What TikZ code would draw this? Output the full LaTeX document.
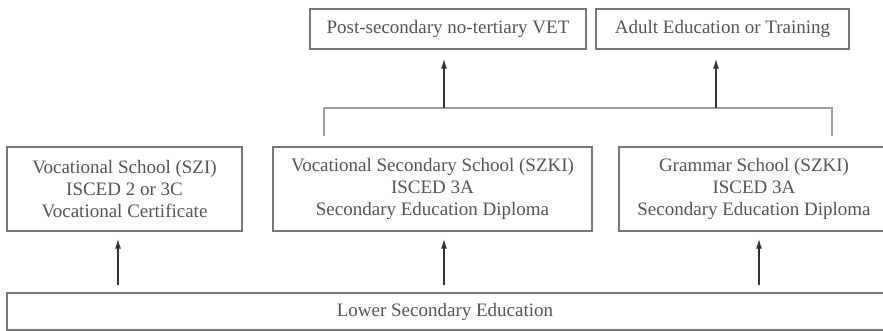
\documentclass[tikz,border=0pt]{standalone}
\usepackage{fontspec}
\setmainfont{Liberation Serif}
\usepackage{tikz}
\usetikzlibrary{arrows.meta}

\definecolor{txtgray}{RGB}{85,85,85}
\definecolor{boxgray}{RGB}{120,120,120}
\definecolor{lightgray}{RGB}{160,160,160}

\tikzset{
  stagebox/.style={draw=boxgray, line width=1.2pt, text=txtgray, align=center,
    inner sep=0pt, font=\fontsize{19}{22}\selectfont},
  uparrow/.style={-{Latex[length=10pt,width=6pt]}, line width=1.5pt, color=black!80},
  joinline/.style={draw=lightgray, line width=1.2pt}
}

\begin{document}
\begin{tikzpicture}[x=1pt,y=-1pt]
\useasboundingbox (0,0) rectangle (883,331);
\clip (0,0) rectangle (883,331);
% top row
\node[stagebox, minimum width=276pt, minimum height=40pt] (post) at (448,29) {Post-secondary no-tertiary VET};
\node[stagebox, minimum width=253pt, minimum height=40pt] (adult) at (722.5,29) {Adult Education or Training};
% middle row
\node[stagebox, minimum width=235pt, minimum height=84pt] (voc) at (124.5,189) {Vocational School (SZI)\\ISCED 2 or 3C\\Vocational Certificate};
\node[stagebox, minimum width=319pt, minimum height=84pt] (vocsec) at (432.5,189) {Vocational Secondary School (SZKI)\\ISCED 3A\\Secondary Education Diploma};
\node[stagebox, minimum width=270pt, minimum height=84pt] (gram) at (754,189) {Grammar School (SZKI)\\ISCED 3A\\Secondary Education Diploma};
% bottom row
\node[stagebox, minimum width=880pt, minimum height=37pt] (lower) at (447,311.5) {\hspace{-4pt}Lower Secondary Education};
% bracket over the two upper secondary schools
\coordinate (bl) at (324,136);
\coordinate (br) at (832,136);
\draw[joinline] (bl) -- ++(0,-28) -| (br);
\coordinate (ja) at (444,108);
\coordinate (jb) at (716,108);
\draw[uparrow, shorten >=9pt] (ja) -- (ja |- post.south);
\draw[uparrow, shorten >=9pt] (jb) -- (jb |- adult.south);
% arrows from lower secondary
\foreach \nd/\dx in {voc/-6.5, vocsec/11.5, gram/5}
  \draw[uparrow, shorten <=7pt, shorten >=7pt] ([xshift=\dx pt]lower.north -| \nd.south) -- ([xshift=\dx pt]\nd.south);
\end{tikzpicture}
\end{document}
